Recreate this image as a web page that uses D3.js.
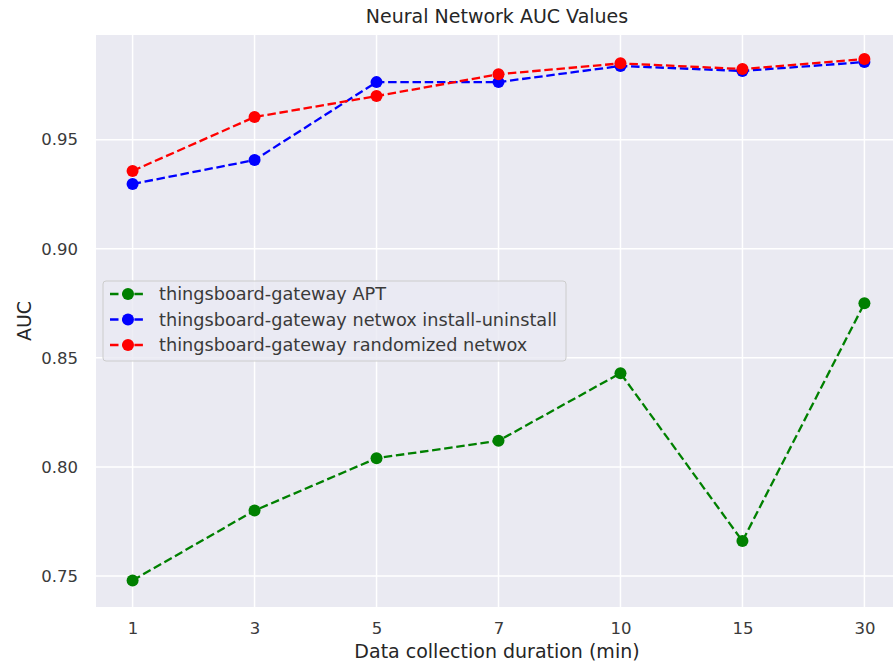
<!DOCTYPE html>
<html>
<head>
<meta charset="utf-8">
<script src="https://cdn.jsdelivr.net/npm/d3@7"></script>
<style>
  body { margin: 0; background: #fff; }
  text { font-family: "DejaVu Sans", sans-serif; }
</style>
</head>
<body>
<svg id="canvas" width="893" height="666"></svg>
<script>
let durations = ["1", "3", "5", "7", "10", "15", "30"];
let aptValues = [0.748, 0.780, 0.804, 0.812, 0.843, 0.766, 0.875];
let installValues = [0.9297, 0.9407, 0.9764, 0.9764, 0.9838, 0.9815, 0.9856];
let randomizedValues = [0.9357, 0.9604, 0.970, 0.980, 0.985, 0.9824, 0.987];
let yTicks = [0.75, 0.80, 0.85, 0.90, 0.95];

let series = [
  { name: "thingsboard-gateway APT", color: "green", values: aptValues },
  { name: "thingsboard-gateway netwox install-uninstall", color: "blue", values: installValues },
  { name: "thingsboard-gateway randomized netwox", color: "red", values: randomizedValues }
];

let canvas = d3.select("#canvas");
let plotLeft = 96, plotTop = 35, plotRight = 901, plotBottom = 607;

// categorical x axis with matplotlib-like 0.05 margins
let xIdx = d3.scaleLinear().domain([-0.3, 6.3]).range([plotLeft, plotRight]);
let yScale = d3.scaleLinear().domain([0.7358, 0.998]).range([plotBottom, plotTop]);

canvas.append("rect")
  .attr("x", plotLeft).attr("y", plotTop)
  .attr("width", plotRight - plotLeft).attr("height", plotBottom - plotTop)
  .attr("fill", "#eaeaf2");

// grid
let grid = canvas.append("g");
grid.selectAll(".vg").data(durations).enter().append("line")
  .attr("x1", (d, i) => xIdx(i)).attr("x2", (d, i) => xIdx(i))
  .attr("y1", plotTop).attr("y2", plotBottom)
  .attr("stroke", "white").attr("stroke-width", 1.5);
grid.selectAll(".hg").data(yTicks).enter().append("line")
  .attr("x1", plotLeft).attr("x2", plotRight)
  .attr("y1", (d) => yScale(d)).attr("y2", (d) => yScale(d))
  .attr("stroke", "white").attr("stroke-width", 1.5);

// axes via d3 axis, with lines removed
let xAxis = canvas.append("g")
  .attr("transform", "translate(0," + plotBottom + ")")
  .call(d3.axisBottom(xIdx).tickValues(d3.range(durations.length))
    .tickFormat((i) => durations[i]).tickSize(0).tickPadding(15));
let yAxis = canvas.append("g")
  .attr("transform", "translate(" + plotLeft + ",0)")
  .call(d3.axisLeft(yScale).tickValues(yTicks)
    .tickFormat(d3.format(".2f")).tickSize(0).tickPadding(18));
[xAxis, yAxis].forEach((ax) => {
  ax.select(".domain").remove();
  ax.selectAll("text").attr("fill", "#3a3a3a").style("font-size", "16.5px")
    .style("font-family", "DejaVu Sans, sans-serif");
});

// lines + markers
let line = d3.line().x((d, i) => xIdx(i)).y((d) => yScale(d));
series.forEach((s) => {
  canvas.append("path")
    .datum(s.values)
    .attr("d", line)
    .attr("fill", "none")
    .attr("stroke", s.color)
    .attr("stroke-width", 2.3)
    .attr("stroke-dasharray", "8.5,3.7");
  canvas.selectAll(null).data(s.values).enter().append("circle")
    .attr("cx", (d, i) => xIdx(i)).attr("cy", (d) => yScale(d))
    .attr("r", 6).attr("fill", s.color);
});

// title and labels
canvas.append("text").attr("x", 497).attr("y", 23).attr("text-anchor", "middle")
  .style("font-size", "19px").attr("fill", "#262626").text("Neural Network AUC Values");
canvas.append("text").attr("x", 497).attr("y", 658).attr("text-anchor", "middle")
  .style("font-size", "19px").attr("fill", "#262626").text("Data collection duration (min)");
canvas.append("text").attr("transform", "translate(31," + ((plotTop + plotBottom) / 2) + ") rotate(-90)")
  .attr("text-anchor", "middle").style("font-size", "19px").attr("fill", "#262626").text("AUC");

// legend
let legend = canvas.append("g").attr("transform", "translate(103,281)");
legend.append("rect").attr("width", 463).attr("height", 80).attr("rx", 3)
  .attr("fill", "#eaeaf2").attr("fill-opacity", 0.8).attr("stroke", "#cccccc");
series.forEach((s, i) => {
  let row = legend.append("g").attr("transform", "translate(0," + (13 + i * 25.5) + ")");
  row.append("line").attr("x1", 7).attr("x2", 43).attr("y1", 0).attr("y2", 0)
    .attr("stroke", s.color).attr("stroke-width", 2.3).attr("stroke-dasharray", "8.5,3.7");
  row.append("circle").attr("cx", 25).attr("cy", 0).attr("r", 6).attr("fill", s.color);
  row.append("text").attr("x", 56).attr("y", 6).style("font-size", "17.7px")
    .attr("fill", "#3a3a3a").text(s.name);
});
</script>
</body>
</html>
